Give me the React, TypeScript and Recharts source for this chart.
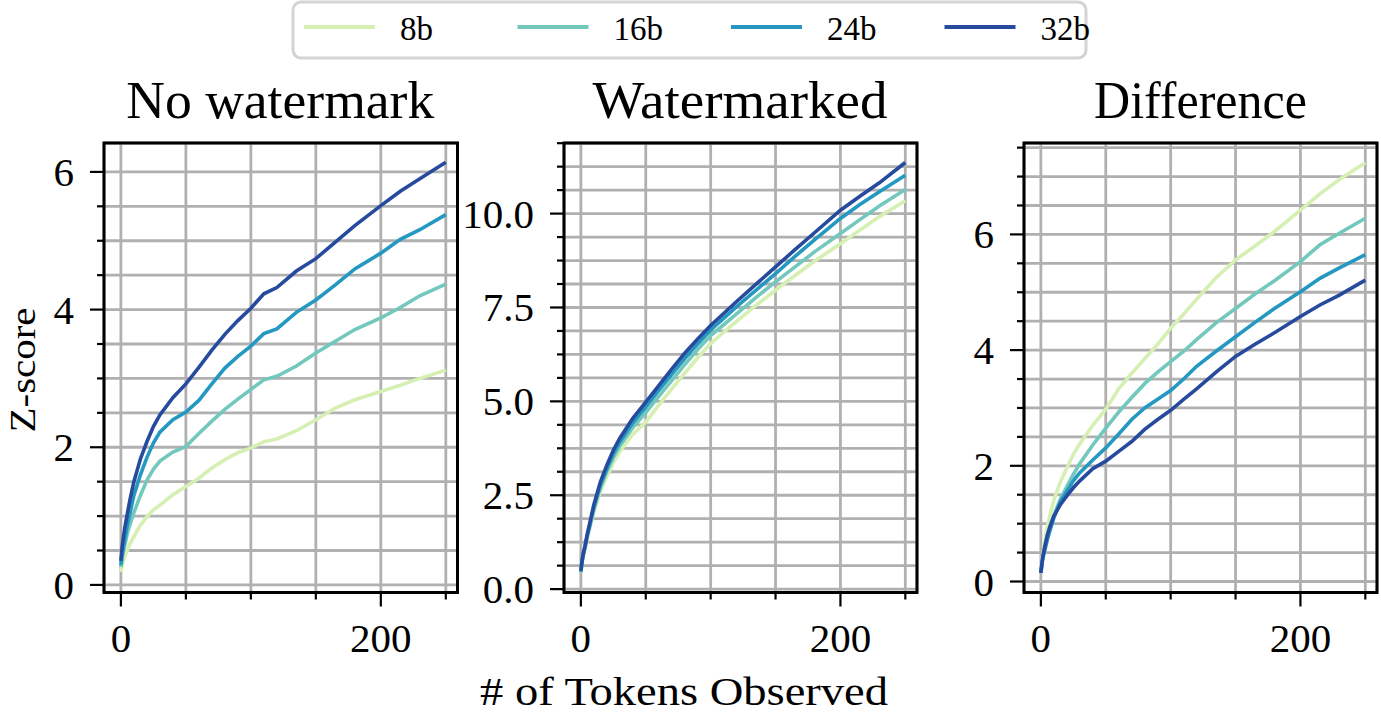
import React from "react";
import {
  LineChart,
  Line,
  XAxis,
  YAxis,
  CartesianGrid,
  ReferenceArea,
} from "recharts";

const FONT = '"Liberation Serif", "DejaVu Serif", serif';

const tokens = [0, 1, 2, 3, 5, 7, 10, 15, 20, 25, 30, 40, 50, 60, 70, 80, 90, 100, 110, 120, 135, 150, 165, 180, 200, 215, 230, 250];

const seriesNames = ["8b", "16b", "24b", "32b"];
const seriesColors = ["#d6efb3", "#73c8bd", "#2498c1", "#264a9d"];

// No watermark
const noWm8b = [0.19, 0.28, 0.35, 0.41, 0.51, 0.6, 0.7, 0.87, 0.99, 1.09, 1.16, 1.31, 1.43, 1.55, 1.7, 1.82, 1.92, 1.99, 2.08, 2.12, 2.24, 2.4, 2.57, 2.69, 2.81, 2.9, 3.0, 3.12];
const noWm16b = [0.26, 0.4, 0.5, 0.58, 0.75, 0.88, 1.05, 1.3, 1.52, 1.68, 1.8, 1.93, 2.01, 2.2, 2.38, 2.55, 2.7, 2.84, 2.98, 3.03, 3.18, 3.37, 3.54, 3.71, 3.88, 4.03, 4.2, 4.37];
const noWm24b = [0.29, 0.45, 0.56, 0.66, 0.88, 1.04, 1.3, 1.6, 1.85, 2.06, 2.22, 2.4, 2.51, 2.68, 2.92, 3.15, 3.32, 3.47, 3.65, 3.72, 3.96, 4.14, 4.36, 4.59, 4.82, 5.02, 5.16, 5.38];
const noWm32b = [0.35, 0.56, 0.7, 0.83, 1.04, 1.24, 1.5, 1.83, 2.08, 2.3, 2.47, 2.72, 2.92, 3.16, 3.41, 3.64, 3.84, 4.02, 4.23, 4.32, 4.56, 4.74, 4.98, 5.22, 5.51, 5.72, 5.9, 6.14];

// Watermarked
const wm8b = [0.45, 0.72, 0.9, 1.04, 1.36, 1.63, 2.05, 2.6, 3.0, 3.36, 3.66, 4.12, 4.45, 4.9, 5.33, 5.75, 6.16, 6.54, 6.84, 7.13, 7.56, 7.96, 8.35, 8.73, 9.2, 9.56, 9.92, 10.34];
const wm16b = [0.45, 0.74, 0.93, 1.07, 1.41, 1.69, 2.12, 2.7, 3.13, 3.5, 3.81, 4.3, 4.7, 5.13, 5.55, 5.98, 6.38, 6.75, 7.04, 7.33, 7.77, 8.18, 8.58, 8.98, 9.47, 9.84, 10.2, 10.64];
const wm24b = [0.46, 0.76, 0.95, 1.09, 1.44, 1.73, 2.18, 2.77, 3.21, 3.6, 3.92, 4.43, 4.85, 5.29, 5.72, 6.14, 6.53, 6.9, 7.21, 7.52, 7.96, 8.4, 8.86, 9.3, 9.87, 10.24, 10.58, 11.02];
const wm32b = [0.49, 0.78, 0.98, 1.12, 1.48, 1.78, 2.25, 2.85, 3.3, 3.7, 4.02, 4.55, 4.98, 5.42, 5.86, 6.28, 6.66, 7.02, 7.34, 7.66, 8.12, 8.58, 9.04, 9.49, 10.09, 10.46, 10.82, 11.36];

// Difference
const diff8b = [0.17, 0.4, 0.55, 0.68, 0.95, 1.15, 1.41, 1.72, 1.96, 2.2, 2.38, 2.7, 2.98, 3.33, 3.6, 3.85, 4.1, 4.38, 4.62, 4.88, 5.25, 5.56, 5.8, 6.05, 6.42, 6.7, 6.95, 7.24];
const diff16b = [0.15, 0.35, 0.48, 0.58, 0.8, 0.96, 1.15, 1.42, 1.64, 1.85, 2.04, 2.36, 2.65, 2.93, 3.18, 3.42, 3.62, 3.8, 3.98, 4.18, 4.47, 4.72, 4.97, 5.2, 5.53, 5.82, 6.02, 6.28];
const diff24b = [0.15, 0.33, 0.45, 0.54, 0.72, 0.88, 1.1, 1.38, 1.56, 1.74, 1.88, 2.1, 2.31, 2.55, 2.8, 3.0, 3.15, 3.3, 3.5, 3.72, 3.98, 4.23, 4.48, 4.72, 5.01, 5.24, 5.42, 5.65];
const diff32b = [0.15, 0.35, 0.49, 0.6, 0.8, 0.95, 1.13, 1.33, 1.48, 1.62, 1.74, 1.95, 2.08, 2.25, 2.42, 2.63, 2.8, 2.96, 3.15, 3.33, 3.62, 3.89, 4.1, 4.3, 4.58, 4.78, 4.95, 5.21];

// axis ticks
const xTicks = [0, 50, 100, 150, 200, 250];
const xMajor = [0, 200];
const yTicksA = [0, 0.5, 1, 1.5, 2, 2.5, 3, 3.5, 4, 4.5, 5, 5.5, 6];
const yMajorA = [0, 2, 4, 6];
const yTicksB = [0, 0.625, 1.25, 1.875, 2.5, 3.125, 3.75, 4.375, 5, 5.625, 6.25, 6.875, 7.5, 8.125, 8.75, 9.375, 10, 10.625, 11.25, 11.875];
const yMajorB = [0, 2.5, 5, 7.5, 10];
const yTicksC = [0, 0.5, 1, 1.5, 2, 2.5, 3, 3.5, 4, 4.5, 5, 5.5, 6, 6.5, 7, 7.5];
const yMajorC = [0, 2, 4, 6];

const buildRows = (cols: number[][]) =>
  tokens.map((t, i) => {
    const row: Record<string, number> = { t };
    seriesNames.forEach((n, k) => (row[n] = cols[k][i]));
    return row;
  });

const XTick = (props: any) => {
  const { x, y, payload } = props;
  const major = xMajor.includes(payload.value);
  return (
    <g>
      <line x1={x} x2={x} y1={y} y2={y + (major ? 14 : 7)} stroke="#000" strokeWidth={2.2} />
      {major && (
        <text x={x} y={y + 59} textAnchor="middle" fontSize={41} fontFamily={FONT} fill="#000">
          {payload.value}
        </text>
      )}
    </g>
  );
};

const makeYTick = (majors: number[], digits: number) => (props: any) => {
  const { x, y, payload } = props;
  const major = majors.includes(payload.value);
  return (
    <g>
      <line x1={x - (major ? 14 : 7)} x2={x} y1={y} y2={y} stroke="#000" strokeWidth={2.2} />
      {major && (
        <text x={x - 30} y={y + 14} textAnchor="end" fontSize={41} fontFamily={FONT} fill="#000">
          {payload.value.toFixed(digits)}
        </text>
      )}
    </g>
  );
};

interface PanelProps {
  rows: Record<string, number>[];
  left: number;
  top: number;
  w: number;
  h: number;
  yDomain: [number, number];
  yTicks: number[];
  yMajor: number[];
  digits: number;
}

const xDomain: [number, number] = [-13, 259];

const Panel = ({ rows, left, top, w, h, yDomain, yTicks, yMajor, digits }: PanelProps) => (
  <div style={{ position: "absolute", left: left - 110, top: top - 10 }}>
    <LineChart width={w + 130} height={h + 80} data={rows} margin={{ top: 10, right: 20, left: 10, bottom: 0 }}>
      <CartesianGrid stroke="#b0b0b0" strokeWidth={2.8} />
      <XAxis
        dataKey="t"
        type="number"
        domain={xDomain}
        allowDataOverflow
        ticks={xTicks}
        interval={0}
        tickSize={0}
        tickMargin={0}
        axisLine={false}
        height={70}
        tick={XTick}
      />
      <YAxis
        type="number"
        domain={yDomain}
        allowDataOverflow
        ticks={yTicks}
        interval={0}
        tickSize={0}
        tickMargin={0}
        axisLine={false}
        width={100}
        tick={makeYTick(yMajor, digits)}
      />
      {seriesNames.map((n, k) => (
        <Line
          key={n}
          dataKey={n}
          stroke={seriesColors[k]}
          strokeWidth={3.6}
          dot={false}
          type="linear"
          isAnimationActive={false}
        />
      ))}
      <ReferenceArea
        x1={xDomain[0]}
        x2={xDomain[1]}
        y1={yDomain[0]}
        y2={yDomain[1]}
        fill="none"
        fillOpacity={0}
        stroke="#000"
        strokeWidth={3}
      />
    </LineChart>
  </div>
);

const App = () => {
  const plotTop = 143;
  const plotH = 449.5;
  const panels = [
    { title: "No watermark", left: 103.5, w: 353.5, tw: 308 },
    { title: "Watermarked", left: 563.5, w: 353, tw: 295 },
    { title: "Difference", left: 1024, w: 353, tw: 213 },
  ];
  return (
    <div style={{ position: "absolute", left: 0, top: 0, width: 1381, height: 715, background: "#fff" }}>
      <Panel rows={buildRows([noWm8b, noWm16b, noWm24b, noWm32b])} left={panels[0].left} top={plotTop} w={panels[0].w} h={plotH}
        yDomain={[-0.11, 6.42]} yTicks={yTicksA} yMajor={yMajorA} digits={0} />
      <Panel rows={buildRows([wm8b, wm16b, wm24b, wm32b])} left={panels[1].left} top={plotTop} w={panels[1].w} h={plotH}
        yDomain={[-0.09, 11.88]} yTicks={yTicksB} yMajor={yMajorB} digits={1} />
      <Panel rows={buildRows([diff8b, diff16b, diff24b, diff32b])} left={panels[2].left} top={plotTop} w={panels[2].w} h={plotH}
        yDomain={[-0.19, 7.58]} yTicks={yTicksC} yMajor={yMajorC} digits={0} />
      <svg width={1381} height={715} style={{ position: "absolute", left: 0, top: 0, pointerEvents: "none" }}>
        {panels.map((p) => (
          <text key={p.title} x={p.left + p.w / 2} y={118} textAnchor="middle" fontSize={52} fontFamily={FONT} fill="#000"
            textLength={p.tw} lengthAdjust="spacingAndGlyphs">
            {p.title}
          </text>
        ))}
        <text x={35} y={370} transform="rotate(-90 35 370)" textAnchor="middle" fontSize={36} fontFamily={FONT} fill="#000"
          textLength={125} lengthAdjust="spacingAndGlyphs">
          Z-score
        </text>
        <text x={684} y={705} textAnchor="middle" fontSize={40} fontFamily={FONT} fill="#000"
          textLength={408} lengthAdjust="spacingAndGlyphs">
          # of Tokens Observed
        </text>
        <rect x={293} y={2} width={793} height={56} rx={8} fill="#fff" stroke="#d4d4d4" strokeWidth={3} />
        {seriesNames.map((n, k) => (
          <g key={n}>
            <line x1={304 + k * 213.5} x2={375 + k * 213.5} y1={27} y2={27} stroke={seriesColors[k]} strokeWidth={4} />
            <text x={400 + k * 213.5} y={40} fontSize={33} fontFamily={FONT} fill="#000">
              {n}
            </text>
          </g>
        ))}
      </svg>
    </div>
  );
};

export default App;
